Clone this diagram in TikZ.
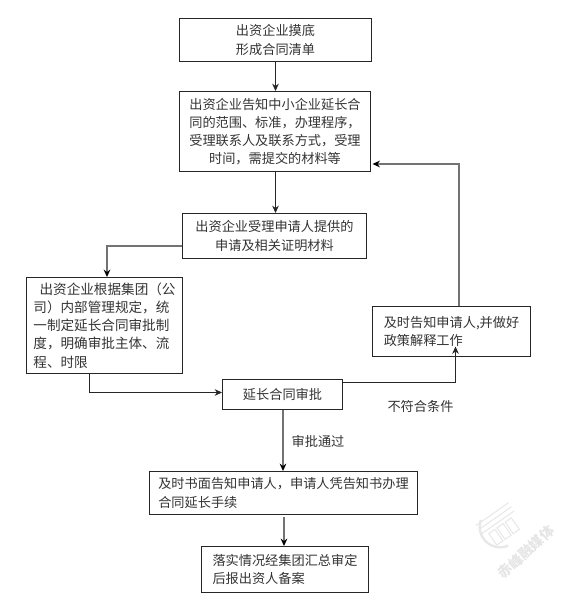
\documentclass[tikz,border=0pt]{standalone}
\usepackage{fontspec}
\setmainfont{Noto Sans CJK SC}
\usepackage{xcolor}
\usetikzlibrary{arrows.meta,positioning}

\begin{document}
\begin{tikzpicture}[
    box/.style={rectangle, draw=black!85, line width=0.57pt, align=center, inner sep=0pt, font=\fontsize{7.5}{10.36}\selectfont, text=black!80},
    leftbox/.style={box, align=left},
    arrow/.style={-{Stealth[length=4.2pt, width=3.8pt]}, line width=0.57pt, black!85},
    grayarrow/.style={-{Stealth[length=4.2pt, width=3.8pt, black]}, line width=1.14pt, black!55},
    tag/.style={font=\fontsize{7.5}{10.36}\selectfont, text=black!80},
    wmark/.style={line width=0.6pt, black!9}
]
\useasboundingbox (0, 0) rectangle (11.5, 12.06);

% Main column
\node[box, minimum width=3.84cm, minimum height=0.86cm] (survey) at (5.51, 11.26) {出资企业摸底\\形成合同清单};
\node[box, minimum width=3.82cm, minimum height=1.6cm] (inform) at (5.5, 9.43) {出资企业告知中小企业延长合\\同的范围、标准，办理程序，\\受理联系人及联系方式，受理\\时间，需提交的材料等};
\node[box, minimum width=3.68cm, minimum height=0.9cm] (accept) at (5.49, 7.34) {出资企业受理申请人提供的\\申请及相关证明材料};
\node[leftbox, minimum width=3.12cm, minimum height=1.92cm, font=\fontsize{7.74}{10.36}\selectfont] (rules) at (2.09, 5.55) {\hspace{0.45em}出资企业根据集团（公\\司）内部管理规定，统\\一制定延长合同审批制\\度，明确审批主体、流\\程、时限};
\node[box, minimum width=2.4cm, minimum height=0.6cm] (review) at (5.65, 4.17) {延长合同审批};
\node[leftbox, minimum width=3.16cm, minimum height=1cm] (reject) at (9.03, 5.43) {及时告知申请人,并做好\\政策解释工作};
\node[leftbox, minimum width=5.36cm, minimum height=0.86cm] (notice) at (5.67, 2.2) {及时书面告知申请人，申请人凭告知书办理\\合同延长手续};
\node[leftbox, minimum width=3.34cm, minimum height=0.92cm] (report) at (5.7, 0.67) {落实情况经集团汇总审定\\后报出资人备案};

% Condition labels
\node[tag] (failtag) at (8.41, 3.926) {不符合条件};
\node[tag] (passtag) at (6.36, 3.226) {审批通过};

% Connectors
\draw[arrow] (survey.south) -- (survey.south |- inform.north);
\draw[arrow] ([xshift=0.01cm]inform.south) -- ([xshift=0.01cm]inform.south |- accept.north);
\draw[grayarrow] ([yshift=-0.2cm]accept.west) -| ([xshift=0.05cm]rules.north);
\draw[arrow] ([xshift=-0.3cm]rules.south) |- ([yshift=0.04cm]review.west);
\draw[arrow] ([yshift=0.24cm, xshift=-0.03cm]review.east) -| ([xshift=0.08cm, yshift=0.21cm]reject.south);
\draw[grayarrow] ([xshift=0.15cm]reject.north) |- ([yshift=-0.65cm, xshift=0.03cm]inform.east);
\draw[grayarrow] ([xshift=0.01cm]review.south) -- ([xshift=0.01cm]review.south |- notice.north);
\draw[grayarrow] ([xshift=0.01cm, yshift=-0.03cm]notice.south) -- ([xshift=0.01cm]notice.south |- report.north);

% Watermark
\begin{scope}[shift={(10.0, 1.52)}, rotate=35]
\draw[wmark, line width=1.4pt] (-0.08, -0.4) arc (258:125:0.41);
\foreach \row in {0.3, 0.2, 0.1} {
    \draw[wmark] (-0.38, \row) -- (0.42, \row);
}
\foreach \col in {-0.26, -0.06, 0.14} {
    \draw[wmark] (\col, -0.26) rectangle ++(0.15, 0.28);
}
\end{scope}
\node[rotate=43, font=\fontsize{8}{9}\selectfont\bfseries, text=black!10] (mark) at (10.52, 1.02) {赤峰融媒体};
\end{tikzpicture}
\end{document}
